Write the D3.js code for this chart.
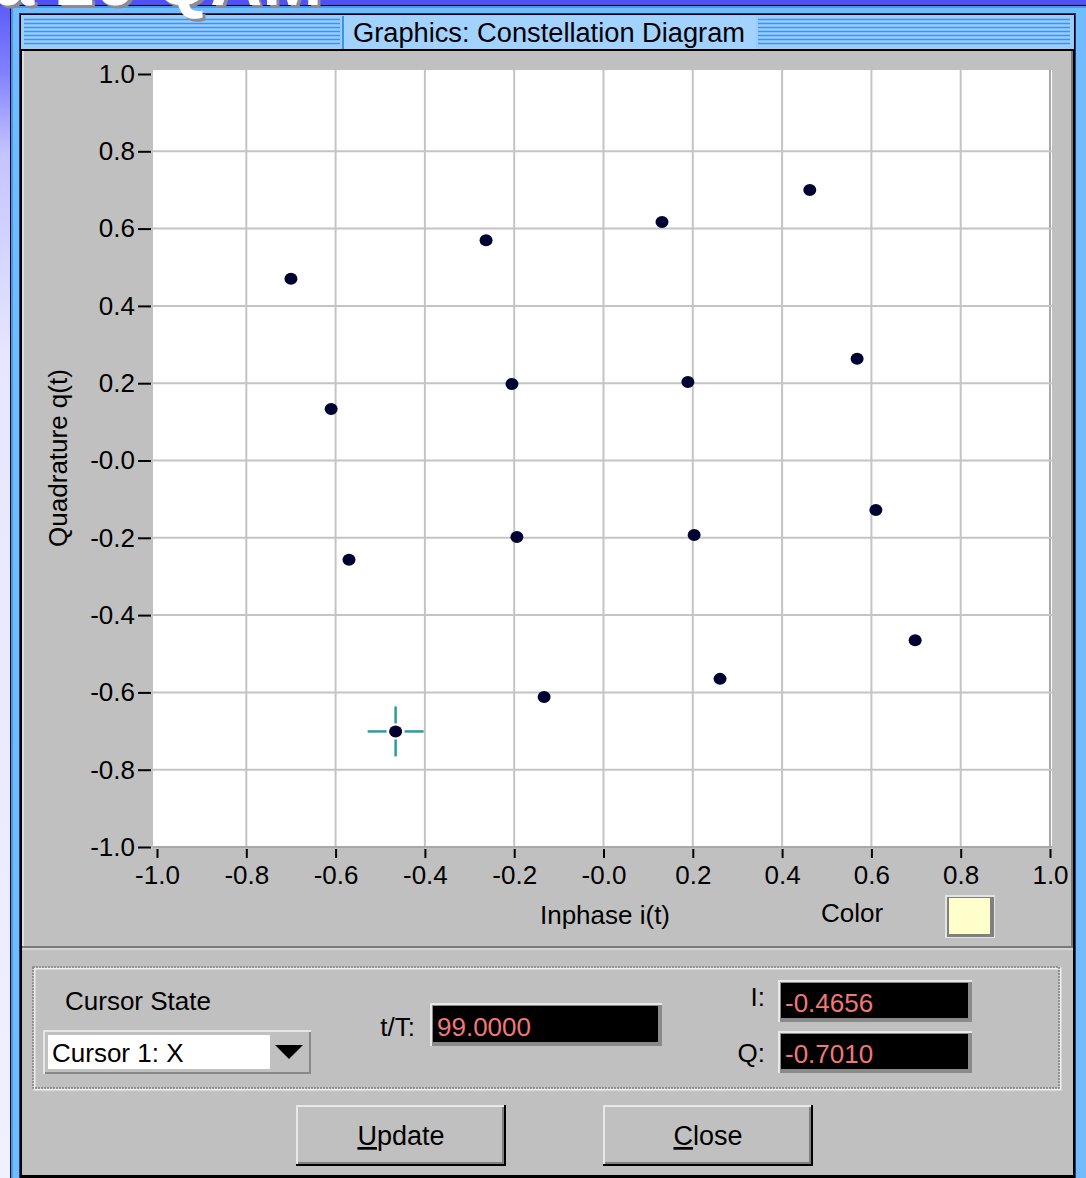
<!DOCTYPE html>
<html><head><meta charset="utf-8">
<script src="https://cdn.jsdelivr.net/npm/d3@7"></script>
<style>
html,body{margin:0;padding:0;overflow:hidden;background:#fff}
text{font-family:"Liberation Sans",Arial,sans-serif}
</style></head>
<body><svg id="c" width="1086" height="1178"></svg>
<script>
// ---- data ----
const pointI = [-0.700,-0.263,0.131,0.462,-0.610,-0.205,0.189,0.568,-0.570,-0.194,0.203,0.610,-0.4656,-0.133,0.261,0.698];
const pointQ = [0.470,0.570,0.617,0.700,0.133,0.198,0.203,0.263,-0.257,-0.198,-0.193,-0.128,-0.7010,-0.612,-0.565,-0.465];
const tickValues = [-1.0,-0.8,-0.6,-0.4,-0.2,0.0,0.2,0.4,0.6,0.8,1.0];
const tickLabels = ["-1.0","-0.8","-0.6","-0.4","-0.2","-0.0","0.2","0.4","0.6","0.8","1.0"];
const cursorI = -0.4656, cursorQ = -0.7010, cursorT = "99.0000";
const cursorIText = "-0.4656", cursorQText = "-0.7010";
const titleText = "Graphics: Constellation Diagram";

const svg = d3.select("#c");
const defs = svg.append("defs");
const bg = defs.append("linearGradient").attr("id","bg").attr("x1",0).attr("y1",0).attr("x2",0).attr("y2",1);
[[0,"#5a5af8"],[0.06,"#8080ff"],[0.13,"#c4c4ff"],[0.3,"#e6e6ff"],[1,"#f0f0ff"]].forEach(s=>bg.append("stop").attr("offset",s[0]).attr("stop-color",s[1]));
const sh = defs.append("filter").attr("id","shadow").attr("x","-10%").attr("y","-10%").attr("width","130%").attr("height","130%");
sh.append("feDropShadow").attr("dx",3).attr("dy",3).attr("stdDeviation",0.6).attr("flood-color","#8a8a98").attr("flood-opacity",1);

// slide background
svg.append("rect").attr("width",1086).attr("height",1178).attr("fill","url(#bg)");
svg.append("rect").attr("width",1086).attr("height",6).attr("fill","#5050f4");

// window frame
svg.append("rect").attr("x",10).attr("y",5).attr("width",1076).attr("height",1173).attr("fill","#0a0a20");
svg.append("rect").attr("x",11).attr("y",6).attr("width",1075).attr("height",1172).attr("fill","#3f9cf2");
svg.append("rect").attr("x",13).attr("y",8).attr("width",1073).attr("height",1170).attr("fill","#70bcff");
svg.append("rect").attr("x",19).attr("y",13).attr("width",1057).attr("height",1165).attr("fill","#1b3e80");
svg.append("rect").attr("x",20).attr("y",14).attr("width",1055).attr("height",1164).attr("fill","#000");
// gray panel
svg.append("rect").attr("x",22).attr("y",51).attr("width",1051).attr("height",1124).attr("fill","#c0c0c0");
svg.append("line").attr("x1",23).attr("x2",23).attr("y1",51).attr("y2",946).attr("stroke","#dcdcdc").attr("stroke-width",2);
svg.append("line").attr("x1",22).attr("x2",1073).attr("y1",947).attr("y2",947).attr("stroke","#7a7a7a").attr("stroke-width",2);
svg.append("line").attr("x1",1072).attr("x2",1072).attr("y1",51).attr("y2",947).attr("stroke","#7a7a7a").attr("stroke-width",2);
svg.append("line").attr("x1",22).attr("x2",1073).attr("y1",949).attr("y2",949).attr("stroke","#dcdcdc").attr("stroke-width",1.5);

// title bar
svg.append("rect").attr("x",21).attr("y",15).attr("width",1053).attr("height",34).attr("fill","#9ccdfa");
const stripes = d3.range(7).map(k=>19.5+4*k);
[[24,340],[758,1070]].forEach(([a,b])=>{
  svg.append("g").selectAll("line").data(stripes).join("line")
    .attr("x1",a).attr("x2",b).attr("y1",d=>d).attr("y2",d=>d)
    .attr("stroke","#3a94ec").attr("stroke-width",1.6);
});
svg.append("rect").attr("x",343).attr("y",16).attr("width",413).attr("height",33).attr("fill","#a2d2ff");
svg.append("line").attr("x1",343).attr("x2",343).attr("y1",16).attr("y2",49).attr("stroke","#3a94ec").attr("stroke-width",2);
svg.append("text").attr("x",549).attr("y",42).attr("text-anchor","middle").attr("font-size",27)
  .attr("textLength",392).attr("lengthAdjust","spacingAndGlyphs").attr("fill","#000").text(titleText);
svg.append("line").attr("x1",20).attr("x2",1075).attr("y1",50).attr("y2",50).attr("stroke","#000").attr("stroke-width",2);

// ---- plot ----
const x = d3.scaleLinear().domain([-1,1]).range([157,1050]);
const y = d3.scaleLinear().domain([-1,1]).range([847,74]);

svg.append("rect").attr("x",153).attr("y",70).attr("width",899).attr("height",778).attr("fill","#fff");
const grid = svg.append("g").attr("stroke","#c4c4c4").attr("stroke-width",2);
grid.selectAll("line.v").data(tickValues.filter(v=>v>-1)).join("line").attr("class","v")
  .attr("x1",d=>x(d)).attr("x2",d=>x(d)).attr("y1",70).attr("y2",848)
  .attr("stroke",d=>d===1?"#a8a8a8":"#c4c4c4");
grid.selectAll("line.h").data(tickValues.filter(v=>v<1)).join("line").attr("class","h")
  .attr("x1",153).attr("x2",1052).attr("y1",d=>y(d)).attr("y2",d=>y(d))
  .attr("stroke",d=>d===-1?"#a8a8a8":"#c4c4c4");

const yAxis = d3.axisLeft(y).tickValues(tickValues).tickFormat((d,i)=>tickLabels[i]).tickSize(13).tickPadding(3);
const gy = svg.append("g").attr("transform","translate(151,0)").call(yAxis);
gy.select(".domain").remove();
gy.selectAll(".tick line").attr("stroke","#000").attr("stroke-width",2);
gy.selectAll(".tick text").attr("font-size",26).attr("fill","#000").attr("font-family","Liberation Sans, Arial, sans-serif");

const xAxis = d3.axisBottom(x).tickValues(tickValues).tickFormat((d,i)=>tickLabels[i]).tickSize(9).tickPadding(8);
const gx = svg.append("g").attr("transform","translate(0,849)").call(xAxis);
gx.select(".domain").remove();
gx.selectAll(".tick line").attr("stroke","#000").attr("stroke-width",2);
gx.selectAll(".tick text").attr("font-size",26).attr("fill","#000").attr("font-family","Liberation Sans, Arial, sans-serif");

svg.append("text").attr("transform","translate(67,458) rotate(-90)").attr("text-anchor","middle")
  .attr("font-size",26).attr("fill","#000").text("Quadrature q(t)");
svg.append("text").attr("x",605).attr("y",924).attr("text-anchor","middle").attr("font-size",26).attr("fill","#000").text("Inphase i(t)");
svg.append("text").attr("x",852).attr("y",922).attr("text-anchor","middle").attr("font-size",26).attr("fill","#000").text("Color");
// color swatch
svg.append("rect").attr("x",945).attr("y",895).attr("width",50).attr("height",43).attr("fill","#e4e4e4");
svg.append("rect").attr("x",947).attr("y",897).attr("width",47).attr("height",40).attr("fill","#808080");
svg.append("rect").attr("x",949).attr("y",898).attr("width",41).attr("height",36).attr("fill","#ffffcc");

// points
const pts = pointI.map((v,i)=>({i:v,q:pointQ[i]}));
svg.append("g").selectAll("ellipse").data(pts).join("ellipse")
  .attr("cx",d=>x(d.i)).attr("cy",d=>y(d.q)).attr("rx",6.5).attr("ry",6)
  .attr("fill","#000033");

// cursor crosshair
const cx = x(cursorI), cy = y(cursorQ);
const ch = svg.append("g").attr("stroke","#2e9c9c").attr("stroke-width",2.5);
[[cx-28,cy,cx-9,cy],[cx+9,cy,cx+28,cy],[cx,cy-25,cx,cy-8],[cx,cy+8,cx,cy+25]].forEach(a=>
  ch.append("line").attr("x1",a[0]).attr("y1",a[1]).attr("x2",a[2]).attr("y2",a[3]));

// ---- cursor group ----
function etched(x0,y0,w,h){
  svg.append("rect").attr("x",x0+1.5).attr("y",y0+1.5).attr("width",w).attr("height",h).attr("fill","none").attr("stroke","#eeeeee").attr("stroke-width",2);
  svg.append("rect").attr("x",x0).attr("y",y0).attr("width",w).attr("height",h).attr("fill","none").attr("stroke","#808080").attr("stroke-width",1.5).attr("stroke-dasharray","2,1");
}
etched(33,967,1026,121);

svg.append("text").attr("x",65).attr("y",1010).attr("font-size",26).attr("fill","#000").text("Cursor State");
// dropdown
svg.append("rect").attr("x",43).attr("y",1030).attr("width",268).attr("height",44).attr("fill","#e6e6e6");
svg.append("rect").attr("x",45).attr("y",1032).attr("width",266).attr("height",42).attr("fill","#888");
svg.append("rect").attr("x",45).attr("y",1032).attr("width",264).attr("height",40).attr("fill","#c0c0c0");
svg.append("rect").attr("x",48).attr("y",1035).attr("width",222).attr("height",34).attr("fill","#fff");
svg.append("text").attr("x",52).attr("y",1062).attr("font-size",26).attr("fill","#000").text("Cursor 1: X");
svg.append("path").attr("d","M275,1045 L303,1045 L289,1059 Z").attr("fill","#000");

function field(x0,y0,w,h,txt,by){
  svg.append("rect").attr("x",x0).attr("y",y0).attr("width",w).attr("height",h).attr("fill","#e8e8e8");
  svg.append("rect").attr("x",x0+2).attr("y",y0+2).attr("width",w-2).attr("height",h-2).attr("fill","#8a8a8a");
  svg.append("rect").attr("x",x0+3).attr("y",y0+3).attr("width",w-7).attr("height",h-7).attr("fill","#000");
  svg.append("text").attr("x",x0+7).attr("y",by).attr("font-size",26).attr("fill","#f07878").text(txt);
}
svg.append("text").attr("x",415).attr("y",1036).attr("text-anchor","end").attr("font-size",26).attr("fill","#000").text("t/T:");
field(430,1003,232,43,cursorT,1036);
svg.append("text").attr("x",765).attr("y",1006).attr("text-anchor","end").attr("font-size",26).attr("fill","#000").text("I:");
field(778,980,194,42,cursorIText,1012);
svg.append("text").attr("x",765).attr("y",1062).attr("text-anchor","end").attr("font-size",26).attr("fill","#000").text("Q:");
field(778,1031,194,42,cursorQText,1063);

// buttons
function button(x0,label){
  const y0=1105,w=210,h=61;
  svg.append("rect").attr("x",x0).attr("y",y0).attr("width",w).attr("height",h).attr("fill","#000");
  svg.append("rect").attr("x",x0).attr("y",y0).attr("width",w-2).attr("height",h-2).attr("fill","#e8e8e8");
  svg.append("rect").attr("x",x0+2).attr("y",y0+2).attr("width",w-4).attr("height",h-4).attr("fill","#808080");
  svg.append("rect").attr("x",x0+2).attr("y",y0+2).attr("width",w-6).attr("height",h-6).attr("fill","#c0c0c0");
  const t = svg.append("text").attr("x",x0+w/2).attr("y",y0+40).attr("text-anchor","middle").attr("font-size",27).attr("fill","#000");
  t.append("tspan").attr("text-decoration","underline").text(label[0]);
  t.append("tspan").text(label.slice(1));
}
button(296,"Update");
button(603,"Close");

// slide title fragment above the window (cut off by the page edge, as in the reference)
svg.append("text").attr("x",-6).attr("y",5).attr("font-family","Liberation Serif, serif").attr("font-weight","bold")
  .attr("font-size",72).attr("fill","#fff").attr("filter","url(#shadow)").text("a 16 QAM");
</script></body></html>
